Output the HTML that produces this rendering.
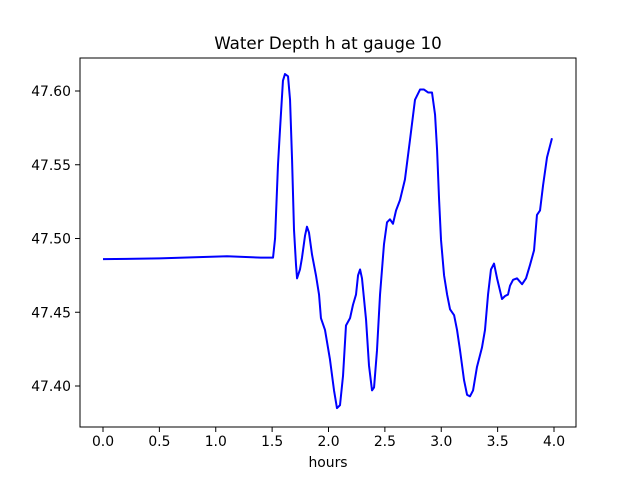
<!DOCTYPE html>
<html><head><meta charset="utf-8"><style>
body{margin:0;background:#fff}
svg text{font-family:"DejaVu Sans","Liberation Sans",sans-serif;fill:#000}
</style></head><body>
<svg id="c" width="640" height="480" xmlns="http://www.w3.org/2000/svg"></svg>
<script>
const times=[0,0.5,1.1,1.4,1.508,1.526,1.552,1.570,1.596,1.614,1.641,1.659,1.677,1.694,1.712,1.721,1.747,1.765,1.792,1.809,1.827,1.854,1.889,1.916,1.933,1.969,2.013,2.049,2.075,2.102,2.129,2.155,2.191,2.217,2.244,2.262,2.280,2.297,2.333,2.359,2.386,2.404,2.430,2.457,2.492,2.519,2.545,2.572,2.599,2.634,2.678,2.723,2.767,2.812,2.847,2.883,2.918,2.945,2.963,2.981,2.998,3.025,3.052,3.078,3.114,3.140,3.167,3.202,3.229,3.255,3.282,3.317,3.361,3.388,3.415,3.441,3.468,3.495,3.539,3.566,3.592,3.610,3.637,3.672,3.717,3.752,3.787,3.823,3.849,3.876,3.903,3.938,3.982];
const depths=[47.486,47.4865,47.488,47.487,47.487,47.500,47.550,47.574,47.607,47.6115,47.610,47.594,47.553,47.506,47.482,47.473,47.479,47.487,47.502,47.508,47.504,47.489,47.475,47.462,47.446,47.438,47.418,47.397,47.385,47.387,47.407,47.441,47.446,47.455,47.462,47.475,47.479,47.473,47.445,47.414,47.397,47.399,47.424,47.462,47.496,47.511,47.513,47.510,47.519,47.526,47.540,47.567,47.594,47.601,47.601,47.599,47.599,47.584,47.560,47.526,47.499,47.475,47.462,47.452,47.448,47.438,47.424,47.404,47.394,47.393,47.397,47.413,47.426,47.438,47.462,47.479,47.483,47.473,47.459,47.461,47.462,47.468,47.472,47.473,47.469,47.473,47.482,47.492,47.516,47.519,47.536,47.555,47.568];
const xTicks=[0,0.5,1,1.5,2,2.5,3,3.5,4];
const xTickLabels=["0.0","0.5","1.0","1.5","2.0","2.5","3.0","3.5","4.0"];
const yTicks=[47.40,47.45,47.50,47.55,47.60];
const yTickLabels=["47.40","47.45","47.50","47.55","47.60"];
const svg=document.getElementById('c');const NS='http://www.w3.org/2000/svg';
const L=80,R=576,T=58,B=427;
const xs=t=>103+112.75*t;
const ys=v=>91+(47.60-v)*1475;
function mk(tag,a,txt){const e=document.createElementNS(NS,tag);for(const k in a)e.setAttribute(k,a[k]);if(txt!==undefined)e.textContent=txt;svg.appendChild(e);return e;}
let d='';times.forEach((t,i)=>{d+=(i?'L':'M')+xs(t).toFixed(2)+','+ys(depths[i]).toFixed(2);});
const ln=mk('path',{d:d,fill:'none',stroke:'#0000ff','stroke-width':2,'stroke-linejoin':'round'});


const fr=mk('rect',{x:L,y:T,width:R-L,height:B-T,fill:'none',stroke:'#000','stroke-width':1});


xTicks.forEach((t,i)=>{const x=xs(t);mk('line',{x1:x,x2:x,y1:B,y2:B+5,stroke:'#000'});
const tx=mk('text',{x:x,y:B+19,'font-size':13.9,'text-anchor':'middle'},xTickLabels[i]);

});
yTicks.forEach((v,i)=>{const y=ys(v);mk('line',{x1:L-5,x2:L,y1:y,y2:y,stroke:'#000'});
const tx=mk('text',{x:L-9,y:y+5,'font-size':13.9,'text-anchor':'end'},yTickLabels[i]);

});
const ti=mk('text',{x:328,y:49,'font-size':16.7,'text-anchor':'middle'},'Water Depth h at gauge 10');


const xl=mk('text',{x:328,y:467,'font-size':13.9,'text-anchor':'middle'},'hours');


</script>
</body></html>
